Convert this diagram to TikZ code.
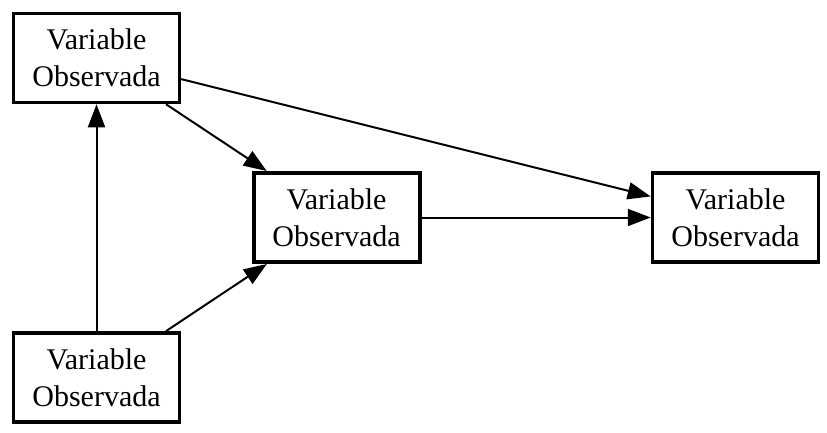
\documentclass[tikz,border=0pt]{standalone}
\usepackage{fontspec}
\setmainfont{Liberation Serif}
\usetikzlibrary{arrows.meta}
\begin{document}
\begin{tikzpicture}[x=1pt,y=1pt,
  var/.style={draw,line width=3.5pt,minimum width=166pt,minimum height=89pt,inner sep=0pt,align=center,font=\fontsize{30}{37}\selectfont},
  conn/.style={line width=2pt,-{Triangle[length=23pt,width=17pt]}}]
\useasboundingbox (0,0) rectangle (827,432);
\node[var] (tl) at (96.5,374) {Variable\\Observada};
\node[var] (bl) at (96.5,54.5) {Variable\\Observada};
\node[var,line width=4pt] (mid) at (336.5,214.5) {Variable\\Observada};
\node[var] (rt) at (735.5,214.5) {Variable\\Observada};
\draw[conn] (bl) -- (tl);
\draw[conn] (tl) -- (mid);
\draw[conn] (bl) -- (mid);
\draw[conn] (tl) -- (rt);
\draw[conn] (mid) -- (rt);
\end{tikzpicture}
\end{document}
